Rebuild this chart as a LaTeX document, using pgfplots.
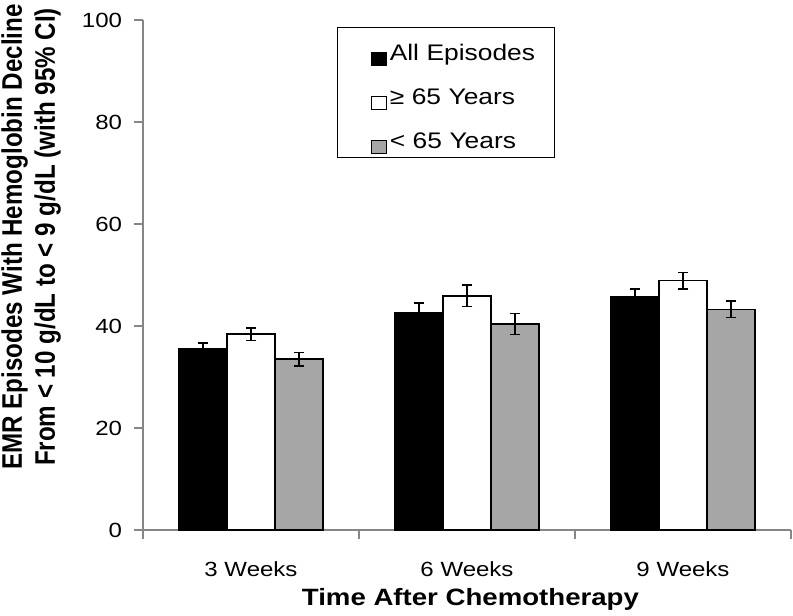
\documentclass[border=0pt]{standalone}
\usepackage{pgfplots}
\pgfplotsset{compat=1.18}
\usepackage{fontspec}
\setmainfont{Liberation Sans}
\newfontfamily\wfont{Liberation Sans}[FakeStretch=1.17]
\newfontfamily\yfont{Liberation Sans}[FakeStretch=0.855]
\definecolor{axgray}{HTML}{868686}
\definecolor{bargray}{HTML}{A6A6A6}
\begin{document}
\begin{tikzpicture}
\path[use as bounding box] (-107.25pt,-63.75pt) rectangle (487.5pt,397.5pt);
\begin{axis}[
  scale only axis, width=486pt, height=382.5pt,
  xmin=0.5, xmax=3.5, ymin=0, ymax=100,
  axis x line*=bottom, axis y line*=left,
  axis line style={draw=axgray, line width=1.1pt},
  tick align=outside, major tick length=6.5pt,
  tick style={draw=axgray, line width=1.1pt},
  xtick={0.5,1.5,2.5,3.5}, x tick label as interval,
  xticklabels={3 Weeks,6 Weeks,9 Weeks},
  ytick={0,20,...,100},
  /pgf/number format/assume math mode=true,
  ticklabel style={font=\wfont\fontsize{15.4pt}{18pt}\selectfont, text=black},
  xticklabel style={anchor=base, yshift=-28.5pt},
  yticklabel style={anchor=east, inner sep=0pt},
  yticklabel shift=9pt,
  xlabel={Time After Chemotherapy},
  xlabel style={at={(axis description cs:0.5,0)}, anchor=base, yshift=-56.25pt, xshift=2.6pt, inner sep=0pt,
    font=\wfont\bfseries\fontsize{17.7pt}{21pt}\selectfont},
  ylabel={EMR Episodes With Hemoglobin Decline\\From < 10 g/dL to < 9 g/dL (with 95\% CI)},
  ylabel style={at={(axis description cs:-0.1725,0.5745)}, anchor=center, align=center, inner sep=0pt,
    font=\yfont\bfseries\fontsize{21.2pt}{24.75pt}\selectfont},
  error bars/y dir=both, error bars/y explicit,
  error bars/error bar style={black, line width=1.1pt},
  error bars/error mark options={black, rotate=90, mark size=4.1pt, line width=1.1pt},
  legend image code/.code={\path (0pt,0pt); \draw[#1, line width=0.9pt] (22.5pt,-3.75pt) rectangle (33.75pt,6.25pt);},
  legend style={at={(0.2994,0.9863)}, anchor=north west, draw=black, line width=0.8pt, fill=white,
    inner xsep=2.25pt, inner ysep=2.25pt, row sep=6.4pt, column sep=2.25pt,
    font=\wfont\fontsize{16.9pt}{20pt}\selectfont,
    cells={anchor=base west},
    nodes={inner sep=0pt, text height=22.5pt, text depth=3pt, text width=121.5pt, align=left}},
]
% All Episodes (bars centred 0.2222 left of each category)
\addplot[ybar, bar width=0.2222, bar shift=0, fill=black, draw=black, line width=1pt]
  coordinates {(0.7778,35.6) +- (0,1.1) (1.7778,42.6) +- (0,1.9) (2.7778,45.7) +- (0,1.6)};
% >= 65 Years
\addplot[ybar, bar width=0.2222, bar shift=0, fill=white, draw=black, line width=1pt]
  coordinates {(1,38.4) +- (0,1.2) (2,45.9) +- (0,2.1) (3,48.9) +- (0,1.6)};
% < 65 Years
\addplot[ybar, bar width=0.2222, bar shift=0, fill=bargray, draw=black, line width=1pt]
  coordinates {(1.2222,33.5) +- (0,1.3) (2.2222,40.4) +- (0,2.1) (3.2222,43.3) +- (0,1.6)};
\legend{All Episodes, ≥ 65 Years, < 65 Years}
\end{axis}
\end{tikzpicture}
\end{document}
